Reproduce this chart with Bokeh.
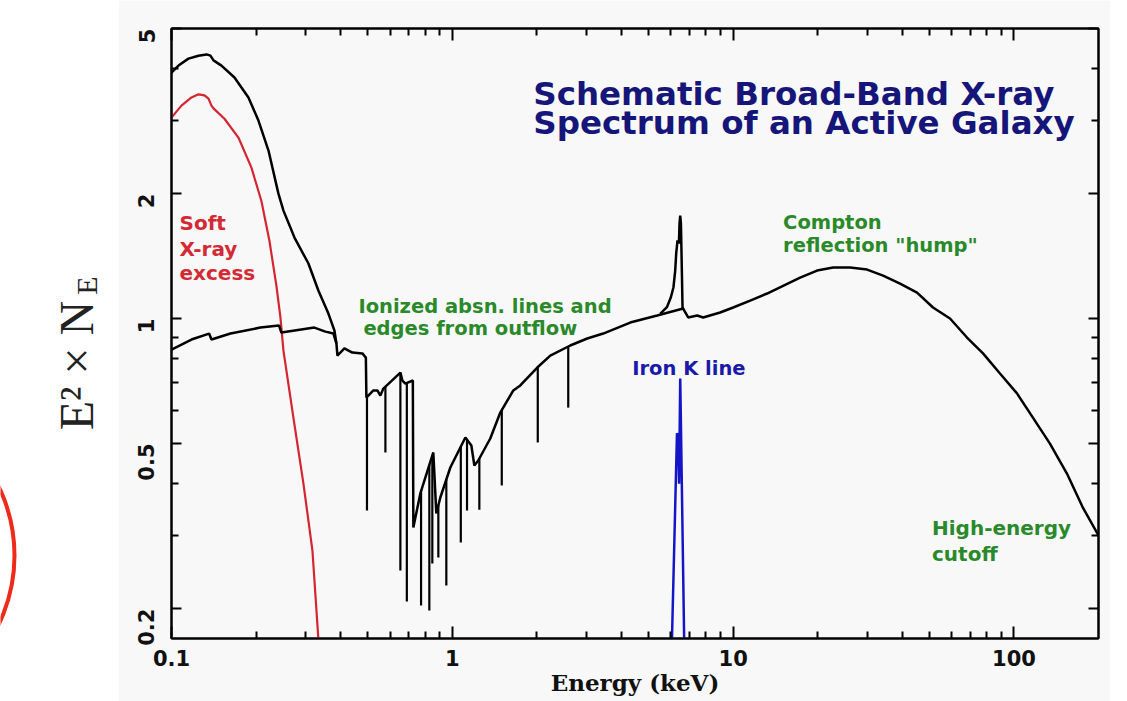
import math
from bokeh.plotting import figure
from bokeh.models import Range1d, LogAxis, FixedTicker, CustomJSTickFormatter, Label
from bokeh.layouts import row
from bokeh.embed import file_html
from bokeh.resources import INLINE
from bokeh.core.properties import value

# ---------------- data ----------------
# soft X-ray excess component (red)
soft_E = [0.100, 0.1085, 0.1178, 0.1248, 0.1311, 0.1354, 0.1388, 0.1411, 0.1544, 0.1731,
          0.1926, 0.2090, 0.2232, 0.2363, 0.2443, 0.2504, 0.2717, 0.2950, 0.3176, 0.3334, 0.340]
soft_V = [3.05, 3.26, 3.41, 3.47, 3.45, 3.39, 3.26, 3.21, 3.03, 2.73,
          2.31, 1.92, 1.54, 1.20, 1.006, 0.837, 0.577, 0.400, 0.276, 0.169, 0.150]

# total spectrum at low energy (soft excess + absorbed continuum)
total_E = [0.100, 0.1059, 0.1149, 0.1248, 0.1332, 0.1376, 0.1411, 0.1506, 0.1676, 0.1879,
           0.2040, 0.2215, 0.2403, 0.2504, 0.2741, 0.3073, 0.3334, 0.3620, 0.3803, 0.3866]
total_V = [3.915, 4.07, 4.23, 4.30, 4.33, 4.30, 4.19, 4.07, 3.81, 3.41,
           3.00, 2.54, 2.00, 1.82, 1.567, 1.357, 1.168, 1.028, 0.936, 0.871]

# absorbed power law + reflection continuum (black)
cont_E = [0.1000, 0.1178, 0.1361, 0.1388, 0.1622, 0.2073, 0.2415, 0.2462, 0.3228, 0.3532,
          0.3772, 0.3866, 0.3898, 0.4127, 0.4406, 0.4783, 0.4922, 0.4943, 0.5234, 0.5408,
          0.5543, 0.5680, 0.6532, 0.6641, 0.6805, 0.7234, 0.7265, 0.7694, 0.8557, 0.8770,
          0.9064, 0.9838, 1.113, 1.169, 1.198, 1.237, 1.365, 1.482, 1.649, 1.746,
          2.007, 2.233, 2.630, 3.023, 3.446, 4.300, 5.364, 6.638, 6.917, 7.445,
          7.820, 8.990, 10.0, 11.50, 13.21, 17.32, 19.90, 22.70, 26.09, 29.99,
          34.19, 39.30, 45.17, 51.49, 59.19, 68.04, 77.58, 89.17, 102.5, 116.8,
          134.3, 154.4, 176.0, 200.0]
cont_V = [0.842, 0.890, 0.920, 0.890, 0.920, 0.951, 0.962, 0.925, 0.951, 0.930,
          0.920, 0.871, 0.814, 0.847, 0.828, 0.824, 0.805, 0.645, 0.671, 0.671,
          0.652, 0.678, 0.741, 0.709, 0.697, 0.709, 0.3135, 0.379, 0.4756, 0.339,
          0.3704, 0.4375, 0.5168, 0.4943, 0.4423, 0.4548, 0.5139, 0.5936, 0.671, 0.690,
          0.762, 0.814, 0.861, 0.895, 0.920, 0.978, 1.017, 1.057, 1.006, 1.017,
          1.006, 1.034, 1.063, 1.105, 1.149, 1.255, 1.305, 1.327, 1.327, 1.312,
          1.269, 1.214, 1.155, 1.063, 1.000, 0.900, 0.824, 0.737, 0.660, 0.577,
          0.4995, 0.423, 0.350, 0.300]

# narrow absorption lines: energy, top (continuum) and bottom of each line
absl_E = [0.4967, 0.5777, 0.6532, 0.6887, 0.7739, 0.8282, 0.8488, 0.8917, 0.952, 1.072,
          1.128, 1.248, 1.500, 2.015, 2.587]
absl_top = [0.645, 0.685, 0.741, 0.701, 0.383, 0.443, 0.467, 0.354, 0.409, 0.491,
            0.511, 0.460, 0.602, 0.764, 0.856]
absl_bot = [0.3445, 0.4756, 0.247, 0.208, 0.2034, 0.198, 0.257, 0.2655, 0.2273, 0.2885,
            0.3445, 0.346, 0.396, 0.5027, 0.610]

# iron K line on top of the continuum (black)
fe_E = [5.498, 5.809, 6.002, 6.131, 6.218, 6.269, 6.337, 6.410, 6.442, 6.479,
        6.517, 6.570, 6.603, 6.657]
fe_V = [1.026, 1.065, 1.125, 1.190, 1.305, 1.434, 1.542, 1.516, 1.694, 1.771,
        1.694, 1.284, 1.063, 1.055]

# iron K line alone (blue)
feb_E = [6.03, 6.31, 6.37, 6.42, 6.48, 6.71]
feb_V = [0.150, 0.529, 0.520, 0.400, 0.717, 0.150]

# axis ticks
x_major = [0.1, 1, 10, 100]
x_minor = [0.2, 0.3, 0.4, 0.5, 0.6, 0.7, 0.8, 0.9, 2, 3, 4, 5, 6, 7, 8, 9,
           20, 30, 40, 50, 60, 70, 80, 90]
y_major = [0.2, 0.5, 1, 2, 5]
y_minor = [0.3, 0.4, 0.6, 0.7, 0.8, 0.9, 3, 4]

# ---------------- layout helpers (image pixel -> data) ----------------
def X(px):
    return 10 ** ((px - 452.0) / 281.0)

def Y(py):
    return 10 ** ((318.0 - py) / 415.0)

GRAY = "#f8f8f8"
BOLD_SANS = "DejaVu Sans"

# ---------------- main plot ----------------
p = figure(width=992, height=701, x_axis_type="log", y_axis_type="log",
           x_range=Range1d(0.1, 200), y_range=Range1d(0.1694, 5.0),
           output_backend="svg", toolbar_location=None,
           min_border_left=53, min_border_right=12, min_border_top=28, min_border_bottom=63,
           background_fill_color=GRAY, border_fill_color=GRAY,
           outline_line_color="black", outline_line_width=2)
p.grid.visible = False

p.line(soft_E, soft_V, line_color="#d42531", line_width=2.2)
p.line(cont_E, cont_V, line_color="black", line_width=2.5)
p.line(total_E, total_V, line_color="black", line_width=2.5)
p.line(fe_E, fe_V, line_color="black", line_width=2.5)
p.segment(x0=absl_E, y0=absl_top, x1=absl_E, y1=absl_bot, line_color="black", line_width=2.2)
p.line(feb_E, feb_V, line_color="#1515c8", line_width=2.5)

xt = FixedTicker(ticks=x_major, minor_ticks=x_minor)
yt = FixedTicker(ticks=y_major, minor_ticks=y_minor)
fmt = CustomJSTickFormatter(code="return String(tick);")
blank = CustomJSTickFormatter(code="return '';")

xb = p.xaxis[0]
yl = p.yaxis[0]
xb.ticker = xt
xb.formatter = fmt
yl.ticker = yt
yl.formatter = fmt
xa = LogAxis(ticker=xt, formatter=blank)
yr = LogAxis(ticker=yt, formatter=blank)
p.add_layout(xa, "above")
p.add_layout(yr, "right")

for ax in (xb, yl, xa, yr):
    ax.axis_line_width = 2
    ax.axis_line_color = "black"
    ax.major_tick_out = 0
    ax.minor_tick_out = 0
    ax.minor_tick_in = 7
    ax.major_tick_line_width = 2
    ax.minor_tick_line_width = 2
    ax.major_tick_line_color = "black"
    ax.minor_tick_line_color = "black"
    ax.major_label_text_font = BOLD_SANS
    ax.major_label_text_font_style = "bold"
    ax.major_label_text_font_size = "21px"
    ax.major_label_text_color = "#111111"
for ax in (xb, xa):
    ax.major_tick_in = 12
for ax in (yl, yr):
    ax.major_tick_in = 10
xb.major_label_standoff = 11
yl.major_label_standoff = 25
yl.major_label_orientation = math.pi / 2
xa.major_label_standoff = 0
yr.major_label_standoff = 0

xb.axis_label = "Energy (keV)"
xb.axis_label_text_font = "DejaVu Serif"
xb.axis_label_text_font_style = "bold"
xb.axis_label_text_font_size = "23px"
xb.axis_label_text_color = "#111111"
xb.axis_label_standoff = 0


def add_label(px, py, text, color, size, font=BOLD_SANS, align="left", style="bold"):
    p.add_layout(Label(x=X(px), y=Y(py), text=text, text_color=color,
                       text_font=font, text_font_size=size, text_font_style=style,
                       text_align=align, text_baseline="alphabetic"))

NAVY = "#16167a"
GREEN = "#2a8a2a"
RED = "#d42a35"
BLUE = "#1a1aa8"

add_label(533, 93, "Schematic Broad-Band X-ray", NAVY, "32.5px")
add_label(533, 122, "Spectrum of an Active Galaxy", NAVY, "32.5px")
add_label(179, 222, "Soft", RED, "20px")
add_label(179, 248, "X-ray", RED, "20px")
add_label(179, 272, "excess", RED, "20px")
add_label(358, 306, "Ionized absn. lines and", GREEN, "19.5px")
add_label(363, 328, "edges from outflow", GREEN, "19.5px")
add_label(632, 368, "Iron K line", BLUE, "19.5px")
add_label(783, 222, "Compton", GREEN, "19.5px")
add_label(783, 245, 'reflection "hump"', GREEN, "19.5px")
add_label(932, 527, "High-energy", GREEN, "20px")
add_label(932, 553, "cutoff", GREEN, "20px")

# ---------------- left strip: y-axis title and highlight circle ----------------
# (its frame is aligned by the row with the main frame: rows 28..638 of the page)
lf = figure(width=118, height=701, x_range=Range1d(0, 118), y_range=Range1d(638, 28),
            output_backend="svg", toolbar_location=None, title=None,
            x_axis_location=None, y_axis_location=None,
            min_border=0, border_fill_color="white", background_fill_color="white",
            outline_line_color=None)
lf.grid.visible = False
lf.circle(x=[-144], y=[555], radius=158, fill_color=None, line_color="#ee2a1a", line_width=4)
lf.text(x=[76], y=[365], text=["E² × N"], angle=math.pi / 2, text_align="center",
        text_baseline="alphabetic", text_font=value("Liberation Serif"),
        text_font_size="48px", text_color="#222222")
lf.text(x=[86], y=[285], text=["E"], angle=math.pi / 2, text_align="center",
        text_baseline="alphabetic", text_font=value("Liberation Serif"),
        text_font_size="30px", text_color="#222222")

layout = row(lf, p)
open("out.html", "w").write(file_html(layout, INLINE))
